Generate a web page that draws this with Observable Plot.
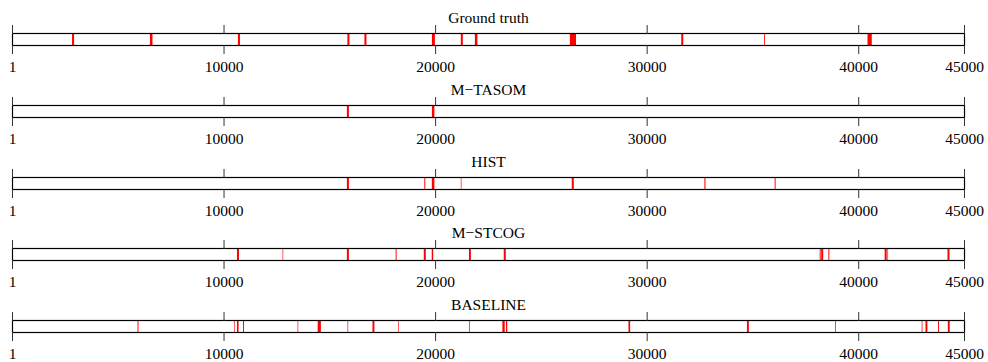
<!DOCTYPE html>
<html><head><meta charset="utf-8">
<script src="https://cdn.jsdelivr.net/npm/d3@7"></script>
<script src="https://cdn.jsdelivr.net/npm/@observablehq/plot@0.6"></script>
<style>
body{margin:0;background:#fff;}
#chart svg{display:block;overflow:visible;}
</style>
</head><body><div id="chart"></div>
<script>
// Tick values of the time axis
const xTicks = [1, 10000, 20000, 30000, 40000, 45000];
const xDomain = [1, 45000];

// Panel titles
const titles = ["Ground truth", "M\u2212TASOM", "HIST", "M\u2212STCOG", "BASELINE"];

// Detected events per method, as [start, end] intervals
const groundTruth = [[2840,2935],[6520,6640],[10680,10775],[15855,15950],[16660,16755],[19850,19990],[21215,21310],[21880,22000],[26370,26660],[31635,31730],[35555,35595],[40440,40640]];
const mTasom = [[15830,15925],[19850,19965]];
const hist = [[15830,15925],[19490,19535],[19845,19965],[21215,21245],[26460,26555],[32730,32780],[36050,36095]];
const mStcog = [[10635,10730],[12790,12820],[15830,15925],[18135,18180],[19465,19560],[19840,19910],[21600,21690],[23245,23340],[38180,38225],[38250,38345],[38590,38635],[41250,41345],[41380,41410],[44220,44315]];
const baseline = [[5935,5980],[10500,10530],[10635,10710],[10920,10965],[13500,13530],[14450,14600],[15860,15890],[17040,17130],[18250,18280],[21600,21635],[23180,23290],[23350,23410],[29140,29220],[34740,34830],[38910,38945],[43000,43035],[43180,43270],[43775,43820],[44235,44325]];

const series = [groundTruth, mTasom, hist, mStcog, baseline];
const heights = [72, 72, 71, 72, 75];
const serif = "'Liberation Serif', 'DejaVu Serif', serif";

const container = document.getElementById("chart");
series.forEach((events, i) => {
  const h = heights[i];
  const chart = Plot.plot({
    width: 988,
    height: h,
    marginLeft: 12,
    marginRight: 24,
    marginTop: 33,
    marginBottom: h - 45,
    x: {domain: xDomain, label: null},
    style: `font-family: ${serif}; font-size: 15.5px; background: transparent; color: black; overflow: visible;`,
    marks: [
      Plot.rect(events, {x1: d => d[0], x2: d => d[1], fill: "red"}),
      Plot.frame({stroke: "black", strokeWidth: 1.2}),
      Plot.axisX(xTicks, {anchor: "bottom", tickSize: 9, tickPadding: 6.5, tickFormat: d => String(d), label: null, stroke: "#333", fontFamily: serif, fontSize: 15.5, fill: "black"}),
      Plot.axisX(xTicks, {anchor: "top", tickSize: 9, tickFormat: () => "", label: null, stroke: "#333"}),
      Plot.text([titles[i]], {text: d => d, frameAnchor: "top", lineAnchor: "bottom", dy: -11, fontSize: 15.5, fontFamily: serif, fill: "black"})
    ]
  });
  container.appendChild(chart);
});
</script>
</body></html>
